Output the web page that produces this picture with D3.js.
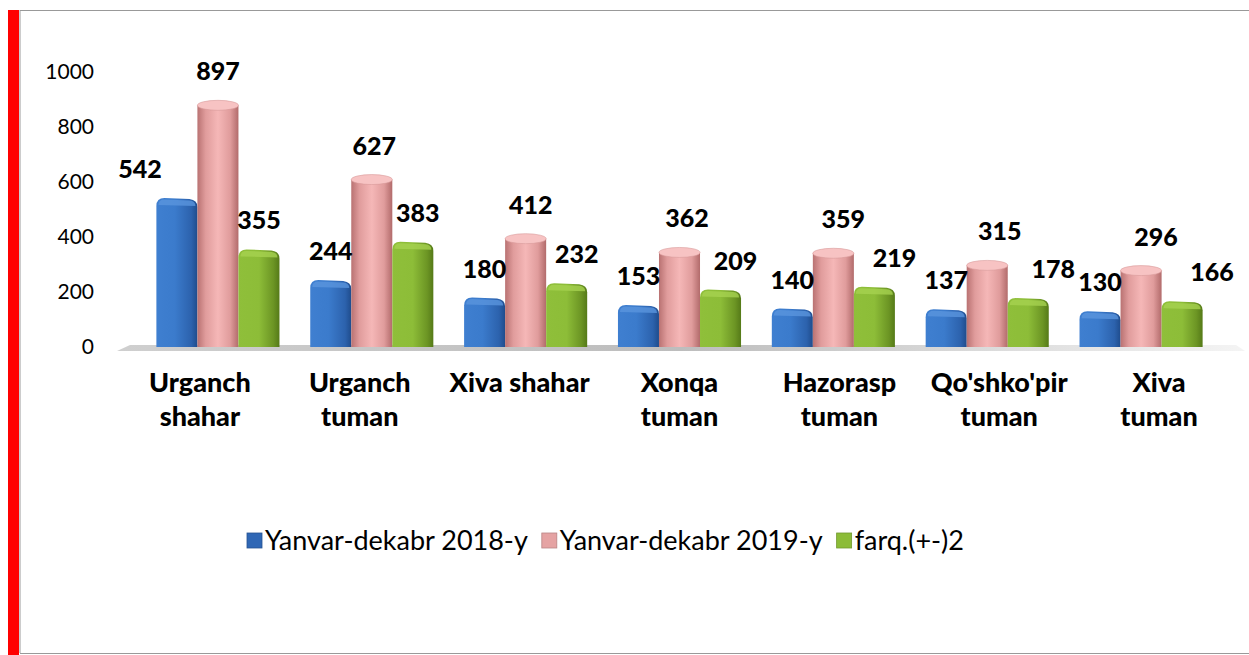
<html>
<head>
<meta charset="utf-8">
<title>Yanvar-dekabr 2018-2019</title>
<script src="https://d3js.org/d3.v7.min.js"></script>
<style>
  body { margin: 0; background: #fff; }
  svg { display: block; font-family: Lato, "Open Sans", sans-serif; }
</style>
</head>
<body>
<div id="chart"></div>
<script>
// data
var categories = [["Urganch", "shahar"], ["Urganch", "tuman"], ["Xiva shahar"], ["Xonqa", "tuman"],
                  ["Hazorasp", "tuman"], ["Qo'shko'pir", "tuman"], ["Xiva", "tuman"]];
var seriesNames = ["Yanvar-dekabr 2018-y", "Yanvar-dekabr 2019-y", "farq.(+-)2"];
var v2018 = [542, 244, 180, 153, 140, 137, 130];
var v2019 = [897, 627, 412, 362, 359, 315, 296];
var farq  = [355, 383, 232, 209, 219, 178, 166];
var yTicks = [0, 200, 400, 600, 800, 1000];

var series = [v2018, v2019, farq];
var W = 1249, H = 655;

var svg = d3.select("#chart").append("svg")
  .attr("width", W).attr("height", H);

// frame
svg.append("rect").attr("x", 8).attr("y", 10).attr("width", 11).attr("height", H - 10).attr("fill", "#ff0000");
svg.append("line").attr("x1", 20).attr("x2", 20).attr("y1", 10).attr("y2", 653).attr("stroke", "#999");
svg.append("line").attr("x1", 20).attr("x2", W).attr("y1", 10.5).attr("y2", 10.5).attr("stroke", "#999");
svg.append("line").attr("x1", 20).attr("x2", W).attr("y1", 653.5).attr("y2", 653.5).attr("stroke", "#999");

var defs = svg.append("defs");
function hGrad(id, stops) {
  var g = defs.append("linearGradient").attr("id", id)
    .attr("x1", "0%").attr("x2", "100%").attr("y1", "0%").attr("y2", "0%");
  stops.forEach(function(s) { g.append("stop").attr("offset", s[0]).attr("stop-color", s[1]); });
}
hGrad("gBlue", [["0%", "#3f7fd0"], ["45%", "#3b7bcc"], ["85%", "#2c62ad"], ["100%", "#1f4c8c"]]);
hGrad("gPink", [["0%", "#b97272"], ["20%", "#e09c9c"], ["50%", "#f5b7b7"], ["80%", "#e09c9c"], ["100%", "#b26b6b"]]);
hGrad("gGreen", [["0%", "#8fbf3a"], ["50%", "#8dbd38"], ["85%", "#6c9524"], ["100%", "#557a18"]]);
hGrad("gFloor", [["0%", "#cfcfcf"], ["50%", "#bdbdbd"], ["100%", "#f4f4f4"]]);
var fills = ["url(#gBlue)", "url(#gPink)", "url(#gGreen)"];
var capFills = ["#5a95dd", "#f7c3c3", "#a6d250"];
var legendColors = ["#2f67b5", "#e5a3a3", "#8cbc38"];

var y = d3.scaleLinear().domain([0, 1000]).range([347, 72]);
var x = d3.scaleBand().domain(d3.range(categories.length)).range([141, 1218])
  .paddingInner(0.2).paddingOuter(0.1);
var xs = d3.scaleBand().domain([0, 1, 2]).range([0, x.bandwidth()]);

// y axis labels (no line, no grid)
var yAxis = d3.axisLeft(y).tickValues(yTicks).tickFormat(d3.format("d")).tickSize(0).tickPadding(0);
var ga = svg.append("g").attr("transform", "translate(94,0)").call(yAxis);
ga.select(".domain").remove();
ga.selectAll("text").attr("font-family", "Lato, sans-serif").attr("font-size", 21).attr("fill", "#000");

// floor shadow
svg.append("path")
  .attr("d", "M117," + (y(0) + 4) + " L130," + (y(0) - 2) + " L1236," + (y(0) - 2) + " L1245," + (y(0) + 4) + " Z")
  .attr("fill", "url(#gFloor)");

// bars
var rows = [];
series.forEach(function(vals, s) {
  vals.forEach(function(v, i) { rows.push({ s: s, i: i, v: v }); });
});

var bars = svg.append("g").selectAll("g").data(rows).enter().append("g")
  .attr("transform", function(d) { return "translate(" + (x(d.i) + xs(d.s)) + ",0)"; });

bars.each(function(d) {
  var g = d3.select(this);
  var w = xs.bandwidth();
  var top = y(d.v), base = y(0);
  if (d.s === 1) {
    // cylinder
    g.append("rect").attr("x", 0).attr("y", top + 5).attr("width", w).attr("height", base - top - 5)
      .attr("fill", fills[1]);
    g.append("ellipse").attr("cx", w / 2).attr("cy", top + 5).attr("rx", w / 2).attr("ry", 5)
      .attr("fill", capFills[1]).attr("stroke", "#d99a9a").attr("stroke-width", 0.6);
  } else {
    g.append("path")
      .attr("d", "M0," + base + " L0," + (top + 8) + " Q0," + top + " 8," + top +
                 " L" + (w - 8) + "," + (top + 1) + " Q" + w + "," + (top + 2) + " " + w + "," + (top + 9) +
                 " L" + w + "," + base + " Z")
      .attr("fill", fills[d.s]);
    g.append("path")
      .attr("d", "M2," + (top + 7) + " Q2," + (top + 1.5) + " 8," + (top + 1.5) +
                 " L" + (w - 8) + "," + (top + 2.5) + " Q" + (w - 2) + "," + (top + 3) + " " + (w - 2) + "," + (top + 8) + " Z")
      .attr("fill", capFills[d.s]).attr("opacity", 0.8);
  }
});

// value labels
var firstNudge = -37;
svg.append("g").selectAll("text").data(rows).enter().append("text")
  .attr("x", function(d) {
    var cx = x(d.i) + xs(d.s) + xs.bandwidth() / 2;
    if (d.s === 0 && d.i === 0) return cx + firstNudge;
    return cx + d.i * 2.5 * d.s;
  })
  .attr("y", function(d) { return y(d.v) - 20; })
  .attr("text-anchor", "middle")
  .attr("font-size", 25).attr("font-weight", 900).attr("fill", "#000")
  .text(function(d) { return d.v; });

// category labels
var cat = svg.append("g").selectAll("text").data(categories).enter().append("text")
  .attr("x", function(d, i) { return x(i) + x.bandwidth() / 2 - 18 + i * 6; })
  .attr("y", 392)
  .attr("text-anchor", "middle")
  .attr("font-size", 27).attr("font-weight", 900).attr("fill", "#000");
cat.selectAll("tspan").data(function(d) { return d; }).enter().append("tspan")
  .attr("x", function() { return d3.select(this.parentNode).attr("x"); })
  .attr("dy", function(d, j) { return j === 0 ? 0 : 34; })
  .text(function(d) { return d; });

// legend
var legend = svg.append("g").attr("transform", "translate(247,541)");
var lx = 0;
seriesNames.forEach(function(name, s) {
  var item = legend.append("g").attr("transform", "translate(" + lx + ",0)");
  item.append("rect").attr("x", 0).attr("y", -8).attr("width", 15).attr("height", 15)
    .attr("fill", legendColors[s]).attr("stroke", d3.color(legendColors[s]).darker(0.6)).attr("stroke-width", 0.8);
  var t = item.append("text").attr("x", 18).attr("y", 9)
    .attr("font-size", 27).attr("fill", "#000").text(name);
  lx += 18 + t.node().getComputedTextLength() + 14;
});
</script>
</body>
</html>
